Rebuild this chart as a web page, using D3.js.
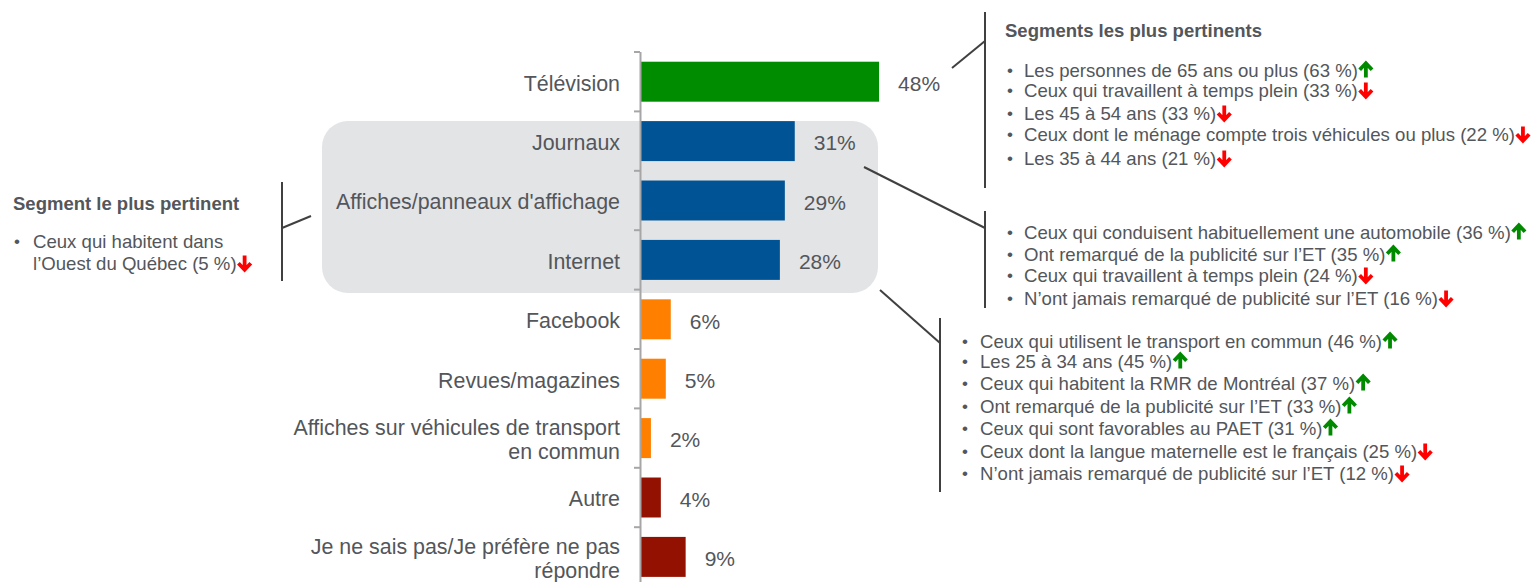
<!DOCTYPE html>
<html>
<head>
<meta charset="utf-8">
<script src="https://cdn.jsdelivr.net/npm/d3@7"></script>
<style>
  body { margin: 0; background: #fff; }
  svg text { font-family: "Liberation Sans", Arial, sans-serif; fill: #53565a; }
</style>
</head>
<body>
<div id="chart"></div>
<script>
// categories (multi-line labels split on "|")
var categories = [
    "Télévision",
    "Journaux",
    "Affiches/panneaux d'affichage",
    "Internet",
    "Facebook",
    "Revues/magazines",
    "Affiches sur véhicules de transport|en commun",
    "Autre",
    "Je ne sais pas/Je préfère ne pas|répondre"
];
var values = [48, 31, 29, 28, 6, 5, 2, 4, 9];
var groups = ["top", "mid", "mid", "mid", "low", "low", "low", "other", "other"];

// segment notes: [text, direction]
var notesTelevision = [
    ["Les personnes de 65 ans ou plus (63 %)", "up"],
    ["Ceux qui travaillent à temps plein (33 %)", "down"],
    ["Les 45 à 54 ans (33 %)", "down"],
    ["Ceux dont le ménage compte trois véhicules ou plus (22 %)", "down"],
    ["Les 35 à 44 ans (21 %)", "down"]
];
var notesJournaux = [
    ["Ceux qui conduisent habituellement une automobile (36 %)", "up"],
    ["Ont remarqué de la publicité sur l’ET (35 %)", "up"],
    ["Ceux qui travaillent à temps plein (24 %)", "down"],
    ["N’ont jamais remarqué de publicité sur l’ET (16 %)", "down"]
];
var notesInternet = [
    ["Ceux qui utilisent le transport en commun (46 %)", "up"],
    ["Les 25 à 34 ans (45 %)", "up"],
    ["Ceux qui habitent la RMR de Montréal (37 %)", "up"],
    ["Ont remarqué de la publicité sur l’ET (33 %)", "up"],
    ["Ceux qui sont favorables au PAET (31 %)", "up"],
    ["Ceux dont la langue maternelle est le français (25 %)", "down"],
    ["N’ont jamais remarqué de publicité sur l’ET (12 %)", "down"]
];
var notesAffiches = [
    ["Ceux qui habitent dans|l’Ouest du Québec (5 %)", "down"]
];

var colors = { top: "#008c00", mid: "#005496", low: "#ff7f00", other: "#921100" };

var width = 1532, height = 582;
var svg = d3.select("#chart").append("svg")
    .attr("width", width)
    .attr("height", height);

var y = d3.scaleBand()
    .domain(categories)
    .range([52, 52 + 9 * 59.4])
    .paddingInner(0.327)
    .paddingOuter(0.1635);

var x = d3.scaleLinear()
    .domain([0, 100])
    .range([641, 641 + 496]);

// grey highlight box behind the middle bars
svg.append("rect")
    .attr("x", 322)
    .attr("y", 121)
    .attr("width", 878 - 322)
    .attr("height", 293 - 121)
    .attr("rx", 26)
    .attr("fill", "#e3e4e6");

// bars
svg.selectAll(".bar")
    .data(categories)
    .enter().append("rect")
    .attr("class", "bar")
    .attr("x", x(0))
    .attr("y", function (d) { return y(d); })
    .attr("width", function (d, i) { return x(values[i]) - x(0); })
    .attr("height", y.bandwidth())
    .attr("fill", function (d, i) { return colors[groups[i]]; });

// value labels
svg.selectAll(".val")
    .data(categories)
    .enter().append("text")
    .attr("class", "val")
    .attr("x", function (d, i) { return x(values[i]) + 19; })
    .attr("y", function (d) { return y(d) + y.bandwidth() / 2 + 2; })
    .attr("dy", "0.35em")
    .style("font-size", "21px")
    .text(function (d, i) { return values[i] + "%"; });

// axis line and boundary ticks
var step = y.step();
svg.append("line")
    .attr("x1", 640.5).attr("x2", 640.5)
    .attr("y1", 52).attr("y2", height)
    .attr("stroke", "#a6a6a6").attr("stroke-width", 2);
svg.selectAll(".tick")
    .data(d3.range(categories.length + 1))
    .enter().append("line")
    .attr("x1", 634).attr("x2", 640)
    .attr("y1", function (i) { return 52 + i * step; })
    .attr("y2", function (i) { return 52 + i * step; })
    .attr("stroke", "#a6a6a6").attr("stroke-width", 2);

// category labels
svg.selectAll(".cat")
    .data(categories)
    .enter().append("text")
    .attr("class", "cat")
    .attr("text-anchor", "end")
    .style("font-size", "21.4px")
    .each(function (d) {
        var lines = d.split("|");
        var cy = y(d) + y.bandwidth() / 2 + 1.5;
        var t = d3.select(this);
        lines.forEach(function (l, k) {
            t.append("tspan")
                .attr("x", 620)
                .attr("y", cy + (k - (lines.length - 1) / 2) * 24)
                .attr("dy", "0.35em")
                .text(l);
        });
    });

// arrow glyph
function arrow(g, cx, cy, dir) {
    var s = dir === "up" ? 1 : -1;
    var p = "M" + cx + "," + (cy + 7.5 * s) + "L" + cx + "," + (cy - 5 * s) +
        "M" + (cx - 6.2) + "," + (cy - 0.3 * s) + "L" + cx + "," + (cy - 6.8 * s) +
        "L" + (cx + 6.2) + "," + (cy - 0.3 * s);
    g.append("path")
        .attr("d", p)
        .attr("fill", "none")
        .attr("stroke", dir === "up" ? "#008a00" : "#ff0000")
        .attr("stroke-width", 3.8);
}

function noteBlock(cfg) {
    var g = svg.append("g");
    // bracket
    g.append("line")
        .attr("x1", cfg.bx).attr("x2", cfg.bx)
        .attr("y1", cfg.by0).attr("y2", cfg.by1)
        .attr("stroke", "#404040").attr("stroke-width", 2);
    g.append("line")
        .attr("x1", cfg.lx0).attr("y1", cfg.ly0)
        .attr("x2", cfg.bx).attr("y2", cfg.ly1)
        .attr("stroke", "#404040").attr("stroke-width", 2);
    if (cfg.title) {
        g.append("text")
            .attr("x", cfg.tx).attr("y", cfg.ty)
            .attr("dy", "0.35em")
            .style("font-size", "18.5px")
            .style("font-weight", "bold")
            .text(cfg.title);
    }
    var row = 0;
    cfg.notes.forEach(function (n, i) {
        var lines = n[0].split("|");
        g.append("text")
            .attr("x", cfg.dotx).attr("y", cfg.rows[row])
            .attr("dy", "0.35em")
            .style("font-size", "17px")
            .text("•");
        var last;
        lines.forEach(function (l) {
            last = g.append("text")
                .attr("x", cfg.textx).attr("y", cfg.rows[row])
                .attr("dy", "0.35em")
                .style("font-size", "18.6px")
                .text(l);
            row++;
        });
        var w = last.node().getComputedTextLength();
        arrow(g, cfg.textx + w + 8, cfg.rows[row - 1], n[1]);
    });
}

noteBlock({
    bx: 985, by0: 12, by1: 188, lx0: 952, ly0: 68, ly1: 41,
    title: "Segments les plus pertinents", tx: 1005, ty: 31,
    dotx: 1007, textx: 1024, rows: [70, 90, 113, 134, 158],
    notes: notesTelevision
});
noteBlock({
    bx: 985, by0: 211, by1: 308, lx0: 864, ly0: 167, ly1: 228,
    dotx: 1007, textx: 1024, rows: [232, 254, 275, 298],
    notes: notesJournaux
});
noteBlock({
    bx: 940, by0: 318, by1: 492, lx0: 880, ly0: 290, ly1: 343,
    dotx: 962, textx: 980, rows: [341, 361, 383, 406, 428, 451, 473],
    notes: notesInternet
});
noteBlock({
    bx: 282, by0: 182, by1: 281, lx0: 311, ly0: 216, ly1: 228,
    title: "Segment le plus pertinent", tx: 13, ty: 204,
    dotx: 14, textx: 33, rows: [241, 263],
    notes: notesAffiches
});
</script>
</body>
</html>
